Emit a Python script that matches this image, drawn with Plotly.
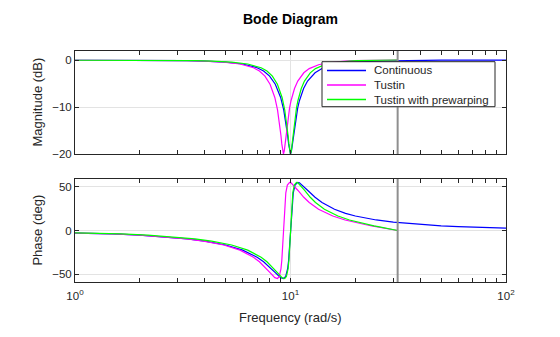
import plotly.graph_objects as go

# ---- data (frequency in rad/s, magnitude in dB, phase in deg) ----
freq_cont = [0.5, 1, 1.5, 2, 2.5, 3, 3.333, 4, 5, 6, 7, 7.5, 8, 8.5, 9, 9.3, 9.5, 9.7, 9.8, 9.9,
             10, 10.1, 10.2, 10.3, 10.5, 10.8, 11, 11.5, 12, 13, 14, 16, 18, 20, 25, 30, 40, 50,
             60, 80, 100]
mag_cont = [-0.0027, -0.0110, -0.0252, -0.0464, -0.0758, -0.1153, -0.1485, -0.2370, -0.4528,
            -0.8531, -1.6555, -2.3604, -3.4387, -5.1440, -7.9646, -10.6017, -13.0081, -16.1110,
            -17.8452, -19.3565, -20.0, -19.3682, -17.9118, -16.2612, -13.3395, -10.1839, -8.6656,
            -6.0749, -4.4829, -2.7203, -1.8287, -1.0025, -0.6429, -0.4528, -0.2370, -0.1485,
            -0.0758, -0.0464, -0.0315, -0.0173, -0.0110]
phase_cont = [-1.292, -2.602, -3.948, -5.350, -6.831, -8.416, -9.546, -12.028, -16.526, -22.431,
              -30.535, -35.702, -41.673, -48.149, -53.784, -54.807, -52.426, -43.679, -34.324,
              -19.599, 0.0, 19.424, 33.856, 43.037, 51.831, 54.894, 54.426, 50.604, 45.981,
              37.908, 31.928, 24.214, 19.589, 16.526, 12.028, 9.546, 6.831, 5.350, 4.408, 3.269,
              2.602]

freq_tustin = [0.4999, 0.9992, 1.4972, 1.9934, 2.4871, 2.9778, 3.3030, 3.9479, 4.8996, 5.8291,
               6.7335, 7.1754, 7.6101, 8.0374, 8.4571, 8.7052, 8.8690, 9.0315, 9.1123, 9.1928,
               9.2730, 9.3528, 9.4323, 9.5115, 9.6690, 9.9027, 10.0569, 10.4367, 10.8084,
               11.5275, 12.2145, 13.4948, 14.6563, 15.7080, 17.9211, 19.6559, 22.1430, 23.8058,
               24.9809, 26.5164, 27.4680, 29.4226, 30.6164, 31.4159]
freq_prewarp = [0.5462, 1.0915, 1.6352, 2.1766, 2.7147, 3.2489, 3.6025, 4.3028, 5.3329, 6.3349,
                7.3050, 7.7772, 8.2405, 8.6946, 9.1392, 9.4015, 9.5744, 9.7458, 9.8309, 9.9157,
                10.0000, 10.0839, 10.1675, 10.2507, 10.4158, 10.6607, 10.8221, 11.2186, 11.6055,
                12.3506, 13.0584, 14.3662, 15.5400, 16.5924, 18.7757, 20.4587, 22.8324, 24.3970,
                25.4936, 26.9171, 27.7950, 29.5905, 30.6840, 31.4159]
mag_tustin = [-0.0027, -0.0110, -0.0252, -0.0464, -0.0758, -0.1153, -0.1485, -0.2370, -0.4528,
              -0.8531, -1.6555, -2.3604, -3.4387, -5.1440, -7.9646, -10.6017, -13.0081, -16.1110,
              -17.8452, -19.3565, -20.0, -19.3682, -17.9118, -16.2612, -13.3395, -10.1839,
              -8.6656, -6.0749, -4.4829, -2.7203, -1.8287, -1.0025, -0.6429, -0.4528, -0.2370,
              -0.1485, -0.0758, -0.0464, -0.0315, -0.0173, -0.0110, -0.0027, -0.0004, 0.0]
phase_tustin = [-1.292, -2.602, -3.948, -5.350, -6.831, -8.416, -9.546, -12.028, -16.526, -22.431,
                -30.535, -35.702, -41.673, -48.149, -53.784, -54.807, -52.426, -43.679, -34.324,
                -19.599, 0.0, 19.424, 33.856, 43.037, 51.831, 54.894, 54.426, 50.604, 45.981,
                37.908, 31.928, 24.214, 19.589, 16.526, 12.028, 9.546, 6.831, 5.350, 4.408,
                3.269, 2.602, 1.292, 0.516, 0.0]
mag_prewarp = list(mag_tustin)
phase_prewarp = list(phase_tustin)

nyquist = [31.4159]

mag_ticks = [-20, -10, 0]
phase_ticks = [-50, 0, 50]
freq_major = [1, 10, 100]
freq_major_text = ["10<sup>0</sup>", "10<sup>1</sup>", "10<sup>2</sup>"]
freq_minor = [2, 3, 4, 5, 6, 7, 8, 9, 20, 30, 40, 50, 60, 70, 80, 90]

series_names = ["Continuous", "Tustin", "Tustin with prewarping"]
series_colors = ["#0000ff", "#ff00ff", "#00ff00"]
series = list(zip(series_names, series_colors,
                  [freq_cont, freq_tustin, freq_prewarp],
                  [mag_cont, mag_tustin, mag_prewarp],
                  [phase_cont, phase_tustin, phase_prewarp]))

FONT = "Liberation Sans, Arial, Helvetica, sans-serif"
INK = "#262626"
GRID = "#e3e3e3"

fig = go.Figure()
for name, col, f, m, p in series:
    fig.add_trace(go.Scatter(x=f, y=m, mode="lines", name=name, line=dict(color=col, width=1.2),
                             xaxis="x", yaxis="y", showlegend=False))
for name, col, f, m, p in series:
    fig.add_trace(go.Scatter(x=f, y=p, mode="lines", name=name, line=dict(color=col, width=1.2),
                             xaxis="x2", yaxis="y2", showlegend=False))

all_x_ticks = sorted(freq_major + freq_minor)
top_text = ["" for _ in all_x_ticks]
bot_text = [freq_major_text[freq_major.index(v)] if v in freq_major else "" for v in all_x_ticks]

common_x = dict(type="log", range=[0, 2], tickmode="array", tickvals=all_x_ticks,
                ticks="inside", ticklen=4, tickcolor=INK, showline=True, linecolor=INK,
                linewidth=1, mirror="ticks", showgrid=False, zeroline=False,
                tickfont=dict(family=FONT, size=11.5, color=INK))
common_y = dict(ticks="inside", ticklen=4, tickcolor=INK, showline=True, linecolor=INK,
                linewidth=1, mirror="ticks", showgrid=True, gridcolor=GRID, gridwidth=1,
                zeroline=False, tickfont=dict(family=FONT, size=11.5, color=INK))

fig.update_layout(
    width=560, height=337,
    margin=dict(l=75, r=54, t=51, b=55),
    paper_bgcolor="white", plot_bgcolor="white",
    font=dict(family=FONT, color=INK),
    xaxis=dict(common_x, domain=[0, 1], anchor="y", ticktext=top_text),
    yaxis=dict(common_y, domain=[0.5541, 1], range=[-20, 1.915], tickvals=mag_ticks),
    xaxis2=dict(common_x, domain=[0, 1], anchor="y2", ticktext=bot_text, matches="x",
                ticklabelstandoff=3),
    yaxis2=dict(common_y, domain=[0, 0.4459], range=[-58.8, 58.8], tickvals=phase_ticks),
    showlegend=False,
)

shapes = []
for xr, yr in (("x", "y domain"), ("x2", "y2 domain")):
    for v in freq_major[1:-1]:
        shapes.append(dict(type="line", xref=xr, yref=yr, x0=v, x1=v, y0=0, y1=1,
                           line=dict(color=GRID, width=1), layer="below"))
    for v in nyquist:
        shapes.append(dict(type="line", xref=xr, yref=yr, x0=v, x1=v, y0=0, y1=1,
                           line=dict(color="#8f8f8f", width=2), layer="above"))

# legend box (drawn like MATLAB's: compact rows)
leg_x0, leg_x1, leg_y0, leg_y1 = 0.5731, 0.9745, 0.7589, 0.9537
leg_line_x0, leg_line_x1, leg_text_x = 0.5847, 0.6752, 0.6891
leg_rows = [0.9156, 0.8528, 0.7900]
shapes.append(dict(type="rect", xref="paper", yref="paper", x0=leg_x0, x1=leg_x1,
                   y0=leg_y0, y1=leg_y1, fillcolor="white", line=dict(color=INK, width=1),
                   layer="above"))
for name, col, ry in zip(series_names, series_colors, leg_rows):
    shapes.append(dict(type="line", xref="paper", yref="paper", x0=leg_line_x0, x1=leg_line_x1,
                       y0=ry, y1=ry, line=dict(color=col, width=1.5), layer="above"))
    fig.add_annotation(text=name, xref="paper", yref="paper", x=leg_text_x, y=ry,
                       xanchor="left", yanchor="middle", showarrow=False,
                       font=dict(family=FONT, size=11.5, color=INK))
fig.update_layout(shapes=shapes)

fig.add_annotation(text="<b>Bode Diagram</b>", xref="paper", yref="paper", x=0.5, y=1.139,
                   xanchor="center", yanchor="middle", showarrow=False,
                   font=dict(family=FONT, size=14, color="#000000"))
fig.add_annotation(text="Frequency (rad/s)", xref="paper", yref="paper", x=0.5, y=-0.152,
                   xanchor="center", yanchor="middle", showarrow=False,
                   font=dict(family=FONT, size=13, color=INK))
fig.add_annotation(text="Magnitude (dB)", xref="paper", yref="paper", x=-0.088, y=0.777,
                   xanchor="center", yanchor="middle", textangle=-90, showarrow=False,
                   font=dict(family=FONT, size=13, color=INK))
fig.add_annotation(text="Phase (deg)", xref="paper", yref="paper", x=-0.088, y=0.223,
                   xanchor="center", yanchor="middle", textangle=-90, showarrow=False,
                   font=dict(family=FONT, size=13, color=INK))

fig.write_html("out.html")
